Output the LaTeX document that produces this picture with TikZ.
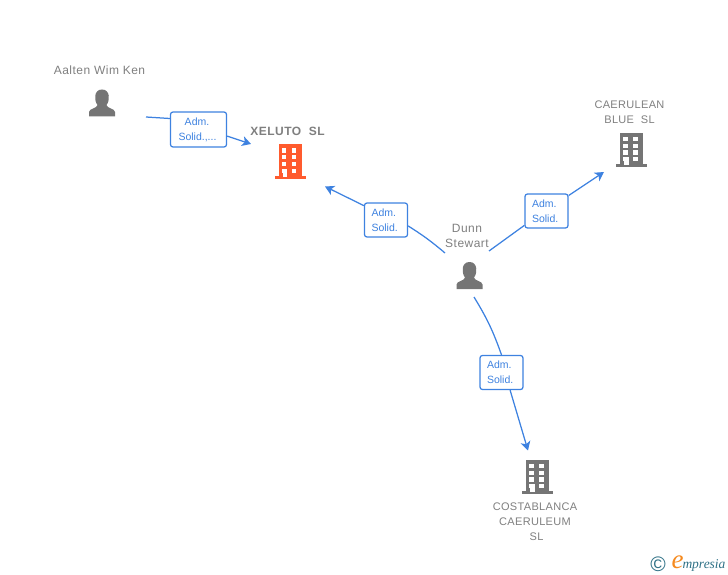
\documentclass[tikz,border=0pt]{standalone}
\usepackage{fontspec}
\setmainfont{Liberation Sans}
\newfontfamily\logofont{Liberation Serif}
\usetikzlibrary{arrows.meta}
\definecolor{linkblue}{HTML}{3E82E0}
\definecolor{icongray}{HTML}{757575}
\definecolor{labelgray}{HTML}{7F7F7F}
\definecolor{mainred}{HTML}{FF5B2E}
\definecolor{logoteal}{HTML}{2F7186}
\definecolor{logoorange}{HTML}{F58A1F}
\tikzset{
    namelabel/.style={text=labelgray,font=\fontsize{12}{15}\selectfont\addfontfeatures{LetterSpace=4},align=center,inner sep=0pt},
    smalllabel/.style={namelabel,font=\fontsize{11}{15}\selectfont\addfontfeatures{LetterSpace=3}},
    rolebox/.style={draw=linkblue,line width=1.25pt,rounded corners=2.5pt,fill=white,
        text=linkblue,font=\fontsize{10.5}{15}\selectfont,inner sep=0pt},
    roleshort/.style={rolebox,text width=29pt,align=left,minimum width=43pt,minimum height=34pt},
    linkline/.style={draw=linkblue,line width=1.25pt},
    linktip/.style={-{Stealth[length=9pt,width=10pt,inset=2.5pt]}},
    pics/person/.style={code={
        \fill[icongray]
            (-13,13.5) -- (-13,9) .. controls (-13,5.5) and (-5,5.5) .. (-4.5,2)
            .. controls (-8,-2) and (-8.5,-13.5) .. (0,-13.5)
            .. controls (8.5,-13.5) and (8,-2) .. (4.5,2)
            .. controls (5,5.5) and (13,5.5) .. (13,9) -- (13,13.5) -- cycle;
    }},
    pics/building/.style={code={
        \fill[#1] (-15.5,14) rectangle (15.5,17);
        \fill[#1] (-11.5,-17) rectangle (11.5,15);
        \foreach \row in {-13,-6.33,0.33,7} {
            \fill[white] (-8.3,\row) rectangle (-3.6,\row+4.3);
            \fill[white] (1.7,\row) rectangle (6.4,\row+4.3);
        }
        \fill[white] (-7.3,7) rectangle (-3,15);
    }}
}
\begin{document}
\begin{tikzpicture}[x=1pt,y=-1pt]
    \useasboundingbox (0,0) rectangle (728,575);
    \path
        (102,103) pic {person}
        (469.5,275.5) pic {person}
        (290,161.5) pic {building=mainred}
        (631.5,150) pic {building=icongray}
        (537.5,477) pic {building=icongray};
    \path
        (99.5,70) node[namelabel] (aalten) {Aalten Wim Ken}
        (467,235.5) node[namelabel] (dunn) {Dunn\\Stewart}
        (287.5,131) node[namelabel,font=\fontsize{12}{15}\selectfont\bfseries\addfontfeatures{LetterSpace=4}] (xeluto) {XELUTO\ \ SL}
        (629.5,112) node[smalllabel] (caerulean) {CAERULEAN\\BLUE\ \ SL}
        (535,522) node[smalllabel] (costa) {COSTABLANCA\\CAERULEUM\\\hspace*{3pt}SL};
    \path
        (198.5,129.5) node[rolebox,align=center,minimum width=56pt,minimum height=35pt] (admA) {\hspace*{-3pt}Adm.\\\hspace*{-2pt}Solid.,...}
        (386,220) node[roleshort] (admB) {Adm.\\Solid.}
        (546.5,211) node[roleshort] (admC) {Adm.\\Solid.}
        (501.5,372.5) node[roleshort] (admD) {Adm.\\Solid.};
    \coordinate (fromAalten) at (146,117);
    \coordinate (toXelutoA) at (251,144);
    \coordinate (fromDunnA) at (445,253);
    \coordinate (toXelutoB) at (325,186.5);
    \coordinate (fromDunnB) at (489,251);
    \coordinate (toCaerulean) at (604,172);
    \coordinate (fromDunnC) at (474,297);
    \coordinate (toCosta) at (528,450.5);
    \draw[linkline] (fromAalten) -- (admA.159);
    \draw[linkline,linktip] (admA.-13) -- (toXelutoA);
    \draw[linkline] (fromDunnA) to[bend right=4] (admB.-15);
    \draw[linkline,linktip] (admB.147) -- (toXelutoB);
    \draw[linkline] (fromDunnB) -- (admC.213);
    \draw[linkline,linktip] (admC.35) -- (toCaerulean);
    \draw[linkline] (fromDunnC) to[bend left=6] (admD.90);
    \draw[linkline,linktip] (admD.-64) -- (toCosta);
    \path
        (658,564) node[text=logoteal,font=\fontsize{21}{21}\selectfont,inner sep=0pt] (copyright) {©}
        (698.5,563.5) node[inner sep=0pt] (logo) {\logofont\itshape\textcolor{logoorange}{\fontsize{27}{27}\selectfont e}\hspace*{-1pt}\textcolor{logoteal}{\fontsize{13.5}{14}\selectfont mpresia}};
\end{tikzpicture}
\end{document}
